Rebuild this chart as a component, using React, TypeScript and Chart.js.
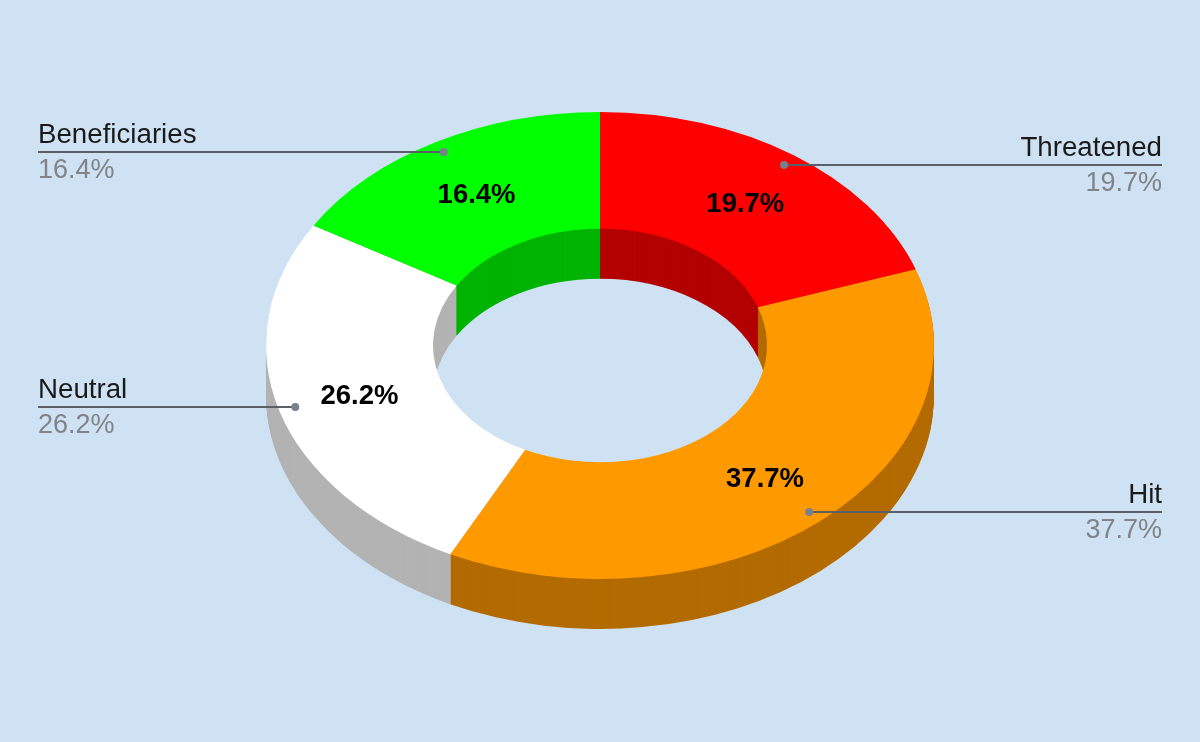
import React, { useEffect, useRef } from "react";
import { Chart, registerables } from "chart.js";

Chart.register(...registerables);

const categories = ["Threatened", "Hit", "Neutral", "Beneficiaries"];
const shares = [19.7, 37.7, 26.2, 16.4];
const faceColors = ["#ff0000", "#ff9900", "#ffffff", "#00ff00"];
const wallColors = ["#b30000", "#b36b00", "#b3b3b3", "#00b300"];

const W = 1200;
const H = 742;
const CX = 600;
const CY = 345.5;
const RX = 334;
const RY = 233.5;
const DEPTH = 50;
const FONT = '"Liberation Sans", Arial, sans-serif';

const tilt = (ctx: CanvasRenderingContext2D, chart: any, dy: number) => {
  const a = chart.chartArea;
  const ax = (a.left + a.right) / 2;
  const ay = (a.top + a.bottom) / 2;
  ctx.translate(CX, CY + dy);
  ctx.scale(1, RY / RX);
  ctx.translate(-ax, -ay);
};

const pie3d = {
  id: "pie3d",
  beforeDatasetsDraw(chart: any) {
    const ctx = chart.ctx;
    const meta = chart.getDatasetMeta(0);
    for (let k = DEPTH; k >= 1; k--) {
      meta.data.forEach((el: any, i: number) => {
        const saved = el.options;
        el.options = { ...saved, backgroundColor: wallColors[i] };
        ctx.save();
        tilt(ctx, chart, k);
        el.draw(ctx);
        ctx.restore();
        el.options = saved;
      });
    }
    ctx.save();
    tilt(ctx, chart, 0);
  },
  afterDatasetsDraw(chart: any) {
    const ctx = chart.ctx;
    ctx.restore();
    const meta = chart.getDatasetMeta(0);
    meta.data.forEach((el: any, i: number) => {
      const { startAngle, endAngle } = el.getProps(["startAngle", "endAngle"], true);
      const mid = (startAngle + endAngle) / 2;
      const cos = Math.cos(mid);
      const sin = Math.sin(mid);
      const text = `${shares[i].toFixed(1)}%`;

      ctx.font = `bold 27.5px ${FONT}`;
      ctx.fillStyle = "#000000";
      ctx.textAlign = "center";
      ctx.textBaseline = "alphabetic";
      ctx.fillText(text, CX + RX * 0.75 * cos, CY + RY * 0.75 * sin + 9.5);

      const ax = CX + RX * 0.95 * cos;
      const ay = Math.round(CY + RY * 0.95 * sin);
      const right = cos > 0;
      const edge = right ? 1162 : 38;

      ctx.strokeStyle = "#5b6068";
      ctx.lineWidth = 2;
      ctx.beginPath();
      ctx.moveTo(ax, ay);
      ctx.lineTo(edge, ay);
      ctx.stroke();

      ctx.fillStyle = "#76818b";
      ctx.beginPath();
      ctx.arc(ax, ay, 4, 0, Math.PI * 2);
      ctx.fill();

      ctx.textAlign = right ? "right" : "left";
      ctx.textBaseline = "alphabetic";
      ctx.font = `27.7px ${FONT}`;
      ctx.fillStyle = "#1a1a1a";
      ctx.fillText(categories[i], edge, ay - 9);
      ctx.font = `27px ${FONT}`;
      ctx.fillStyle = "#808488";
      ctx.fillText(text, edge, ay + 26);
    });
  },
};

export default function App() {
  const ref = useRef<HTMLCanvasElement>(null);
  useEffect(() => {
    const chart = new Chart(ref.current as HTMLCanvasElement, {
      type: "doughnut",
      data: {
        labels: categories,
        datasets: [
          {
            data: shares,
            backgroundColor: faceColors,
            borderWidth: 0,
            clip: false,
          } as any,
        ],
      },
      options: {
        animation: false,
        responsive: false,
        devicePixelRatio: 1,
        cutout: "50%",
        layout: { padding: { top: (H - 2 * RX) / 2, bottom: (H - 2 * RX) / 2 } },
        plugins: { legend: { display: false }, tooltip: { enabled: false } },
      },
      plugins: [pie3d],
    } as any);
    return () => chart.destroy();
  }, []);
  return (
    <div style={{ position: "fixed", left: 0, top: 0, width: W, height: H, background: "#cfe2f3" }}>
      <canvas ref={ref} width={W} height={H} style={{ display: "block" }} />
    </div>
  );
}
